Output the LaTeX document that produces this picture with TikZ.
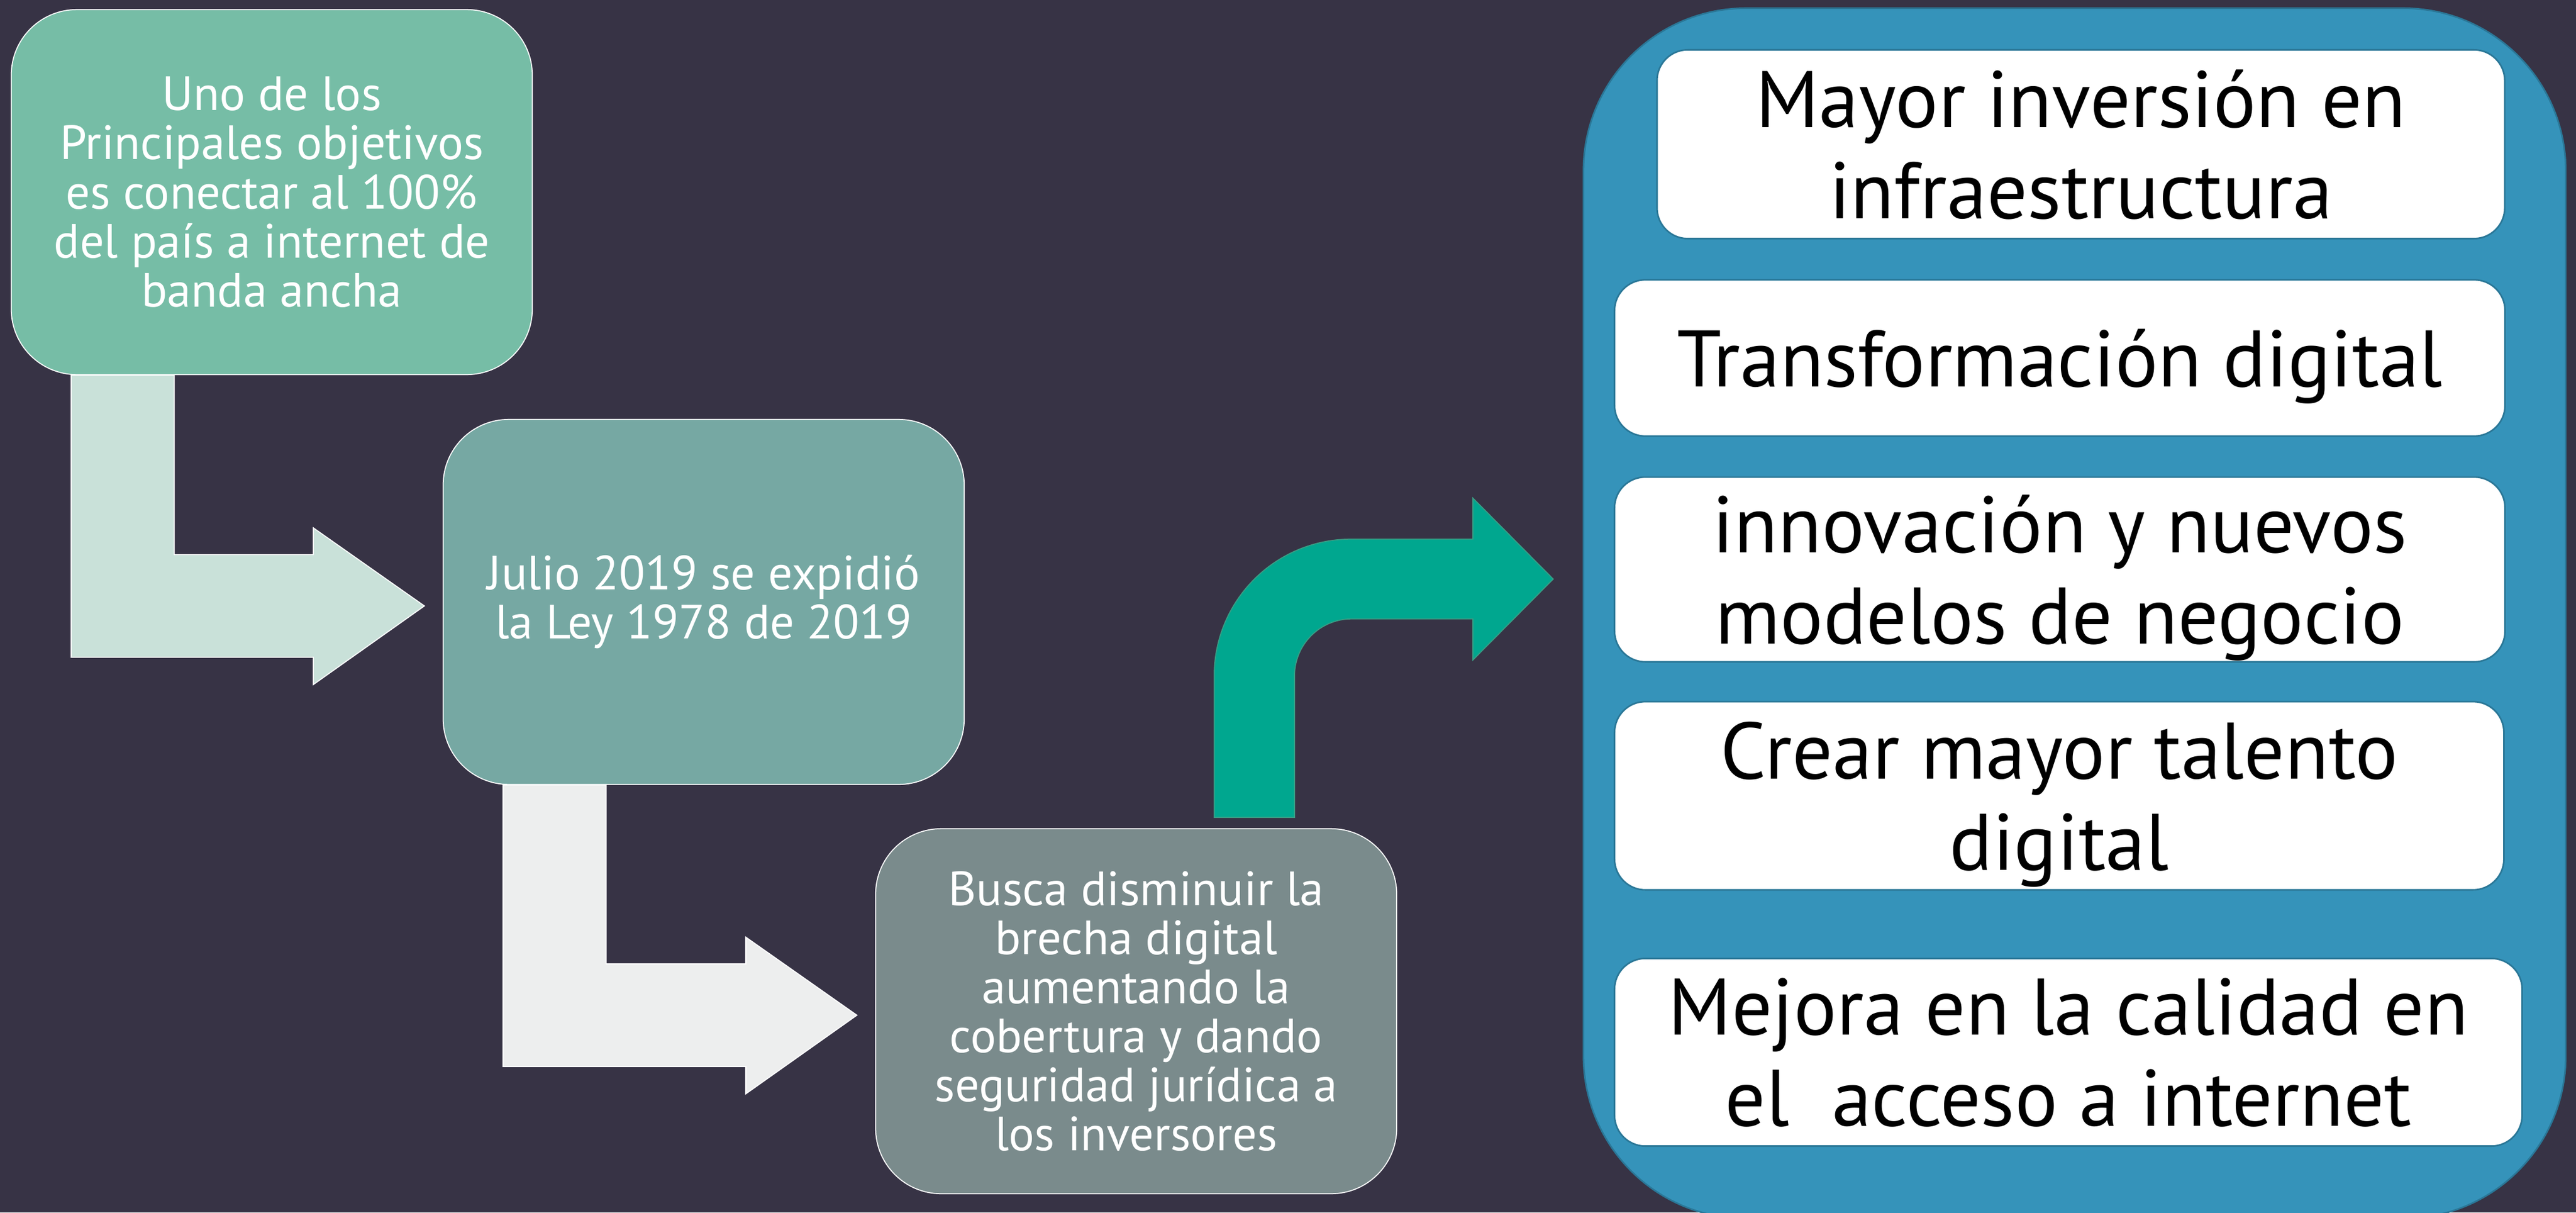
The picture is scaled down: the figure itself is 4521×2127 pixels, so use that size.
\documentclass[tikz,border=0pt]{standalone}
\usepackage{fontspec}
\setmainfont{PT Sans}
\usetikzlibrary{calc,positioning}
\definecolor{fondo}{HTML}{373345}
\definecolor{paso1}{HTML}{76BDA6}
\definecolor{paso2}{HTML}{76A8A3}
\definecolor{paso3}{HTML}{7A8B8C}
\definecolor{flecha1}{HTML}{C9E1D9}
\definecolor{flecha2}{HTML}{EDEEEE}
\definecolor{flecha3}{HTML}{00A78F}
\definecolor{borde3}{HTML}{3A9C84}
\definecolor{panelazul}{HTML}{3593BA}
\definecolor{bordeazul}{HTML}{2A7797}
\makeatletter
\def\bentArrow(#1,#2)#3{%
  \fill[#3,draw=white,line width=0.5pt]
    ($(#1.south west)+(106,0)$) |- ($(#2.west)+(-227,97)$) -- ++(0,48)
    -- ($(#2.west)+(-32,7)$) -- ($(#2.west)+(-227,-130)$) -- ++(0,47)
    -| ($(#1.south west)+(287,0)$) -- cycle;
}
\makeatother

\begin{document}
\begin{tikzpicture}[x=0.01cm,y=-0.01cm,
    paso/.style={rounded corners=1.15cm,draw=white,line width=0.5pt,
      minimum width=9.14cm,minimum height=6.4cm,inner sep=0pt,
      align=center,text=white,font=\fontsize{24}{24.5}\selectfont},
    meta/.style={rounded corners=0.54cm,fill=white,draw=bordeazul,line width=0.8pt,
      inner sep=0pt,text depth=0pt,align=center,text=black,
      font=\fontsize{40}{45.5}\selectfont}]
    \path[use as bounding box,fill=fondo] (0,0) rectangle (4521,2127);

    \node[paso,fill=paso1] (b1) at (477,337)
      {Uno de los\\Principales objetivos\\es conectar al 100\%\\del país a internet de\\banda ancha};
    \node[paso,fill=paso2] (b2) at (1235,1056)
      {Julio 2019 se expidió\\la Ley 1978 de 2019};
    \node[paso,fill=paso3] (b3) at (1994,1774)
      {Busca disminuir la\\brecha digital\\aumentando la\\cobertura y dando\\seguridad jurídica a\\los inversores};

    \bentArrow(b1,b2){flecha1}
    \bentArrow(b2,b3){flecha2}

    % panel de la derecha
    \node[rounded corners=2.85cm,fill=panelazul,draw=bordeazul,line width=0.8pt,
      minimum width=17.23cm,minimum height=21.22cm] (panel) at (3641,1076) {};
    \node[meta,minimum width=14.87cm,minimum height=3.31cm] (m1) at (3652,253)
      {Mayor inversión en\\infraestructura};
    \node[meta,minimum width=15.62cm,minimum height=2.74cm] (m2) at (3615,628)
      {Transformación digital};
    \node[meta,minimum width=15.62cm,minimum height=3.24cm] (m3) at (3615,999)
      {innovación y nuevos\\modelos de negocio};
    \node[meta,minimum width=15.6cm,minimum height=3.3cm] (m4) at (3614,1396)
      {Crear mayor talento\\digital};
    \node[meta,minimum width=15.92cm,minimum height=3.29cm] (m5) at (3630,1846)
      {Mejora en la calidad en\\el~~acceso a internet};

    \fill[flecha3,draw=borde3,line width=0.5pt]
      ($(b3.north west)+(595,-19)$) -- ++(0,-248)
      arc[start angle=180,end angle=90,radius=2.4cm] -- ++(214,0) -- ++(0,-72)
      -- ++(141,142) -- ++(-141,142) -- ++(0,-72) -- ++(-213,0)
      arc[start angle=90,end angle=180,radius=1cm] -- ++(0,248) -- cycle;
\end{tikzpicture}
\end{document}
